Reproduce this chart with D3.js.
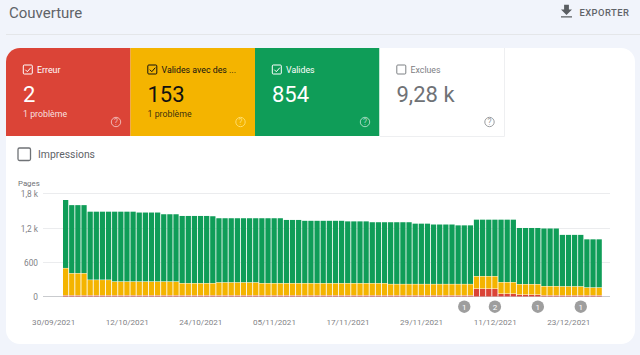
<!DOCTYPE html>
<html lang="fr">
<head>
<meta charset="utf-8">
<script src="https://cdn.jsdelivr.net/npm/d3@7"></script>
<style>
  html, body { margin: 0; padding: 0; background: #f1f4fb; overflow: hidden; }
  svg { display: block; font-family: Roboto, sans-serif; }
</style>
</head>
<body>
<svg id="chart" width="640" height="355"></svg>
<script>
const erreur = [
  22,22,22,22,22,22,22,22,22,22,22,22,22,22,22,22,22,22,22,22,22,22,
  22,22,22,22,22,22,22,22,22,22,22,22,22,22,22,22,22,22,22,22,22,22,
  22,22,22,22,22,22,22,22,22,22,22,22,22,22,22,22,22,22,22,22,22,22,22,
  140,140,140,140,52,52,52,35,35,35,35,22,22,22,22,22,22,22,22,22,22
]
const validesAvert = [
  478,388,388,388,273,273,273,273,243,243,243,243,243,243,243,243,243,243,243,213,213,213,
  213,213,213,228,228,228,228,228,228,228,213,213,213,213,213,213,213,213,213,213,213,213,
  213,213,213,213,213,213,213,213,213,198,198,198,198,198,198,198,198,198,198,198,198,198,198,
  218,218,218,218,201,201,201,183,183,183,183,161,161,161,158,158,158,158,138,138,138
]
const valides = [
  1200,1200,1200,1200,1200,1200,1200,1200,1230,1230,1230,1230,1215,1215,1215,1215,1185,1185,1185,1185,1185,1185,
  1185,1185,1180,1130,1130,1130,1130,1130,1130,1130,1145,1145,1145,1145,1115,1115,1115,1100,1100,1100,1100,1100,
  1100,1100,1090,1090,1090,1090,1075,1075,1075,1090,1090,1090,1090,1065,1065,1065,1050,1050,1050,1050,1035,1035,1035,
  997,997,997,997,1102,1102,1102,991,991,991,991,1017,1017,1017,908,908,908,908,850,850,850
]
const tickEvery = 12
const annotations = [
  { index: 65, count: 1 },
  { index: 70, count: 2 },
  { index: 77, count: 1 },
  { index: 84, count: 1 }
]
const yTicks = [0, 600, 1200, 1800]
const yTickLabels = ['0', '600', '1,2 k', '1,8 k']

const tiles = [
  { label: 'Erreur', value: '2', sub: '1 problème', fill: '#db4437', ink: '#fff', help: '#fff', checked: true },
  { label: 'Valides avec des ...', value: '153', sub: '1 problème', fill: '#f4b400', ink: '#111', help: '#ffdc6a', checked: true },
  { label: 'Valides', value: '854', sub: '', fill: '#0f9d58', ink: '#fff', help: '#fff', checked: true },
  { label: 'Exclues', value: '9,28 k', sub: '', fill: '#fff', ink: '#6f7276', help: '#9a9da0', checked: false }
]

const days = d3.timeDay.range(new Date(2021, 8, 30), new Date(2021, 11, 27))
const formatDay = d3.timeFormat('%d/%m/%Y')
const rows = days.map((day, i) => ({ day, erreur: erreur[i], validesAvert: validesAvert[i], valides: valides[i] }))

const svg = d3.select('#chart')

// card
svg.append('rect').attr('x', 6).attr('y', 48).attr('width', 629).attr('height', 296).attr('rx', 14).attr('fill', '#fff')

// header
svg.append('text').attr('x', 9).attr('y', 18).attr('font-size', 15)
  .attr('fill', '#5f6368').text('Couverture')
svg.append('path').attr('d', 'M561 17.5h11v-1.3h-11zM572 9.5h-3.1v-4.7h-4.8v4.7H561l5.5 5.5z').attr('fill', '#5a5e62')
svg.append('text').attr('x', 579.5).attr('y', 15.5).attr('font-size', 9.4).attr('font-weight', 500)
  .attr('letter-spacing', 0.45).attr('fill', '#5f6368').text('EXPORTER')
svg.append('line').attr('x1', 6).attr('x2', 640).attr('y1', 34.5).attr('y2', 34.5).attr('stroke', '#e4e6e9')

// tiles
const tileX = d3.scaleBand().domain(d3.range(tiles.length)).range([6, 504])

svg.append('path').attr('d', 'M20 48H130.5V136H6V62A14 14 0 0 1 20 48Z').attr('fill', tiles[0].fill)

const tile = svg.append('g').selectAll('g').data(tiles).join('g')
  .attr('transform', (d, i) => `translate(${tileX(i)},48)`)

tile.filter((d, i) => i > 0).append('rect')
  .attr('width', tileX.bandwidth()).attr('height', 88).attr('fill', d => d.fill)

// edge of the white tile
svg.append('path').attr('d', 'M504.5 48V136.5H380').attr('fill', 'none').attr('stroke', '#eeeff1')

const boxInk = d => d.checked ? d.ink : '#7d8084'
tile.append('rect').attr('x', 17.3).attr('y', 17).attr('width', 9).attr('height', 9).attr('rx', 1)
  .attr('fill', 'none').attr('stroke', boxInk).attr('stroke-width', 1)
tile.filter(d => d.checked).append('path').attr('d', 'M19.3 21.7l2 2 3.5-4')
  .attr('fill', 'none').attr('stroke', d => d.ink).attr('stroke-width', 1)
tile.append('text').attr('x', 31).attr('y', 24.7).attr('font-size', 8.8)
  .attr('fill', d => d.fill === '#fff' ? '#7d8084' : d.ink).text(d => d.label)
tile.append('text').attr('x', 17).attr('y', 53.5).attr('font-size', 22).attr('fill', d => d.ink).text(d => d.value)
tile.append('text').attr('x', 17).attr('y', 69).attr('font-size', 8.8)
  .attr('fill', d => d.ink).attr('fill-opacity', 0.85).text(d => d.sub)
tile.append('circle').attr('cx', 110).attr('cy', 74).attr('r', 4.7).attr('fill', 'none')
  .attr('stroke', d => d.help).attr('stroke-opacity', d => d.help === '#fff' ? 0.6 : 1)
tile.append('text').attr('x', 110).attr('y', 77).attr('text-anchor', 'middle').attr('font-size', 8.5)
  .attr('fill', d => d.help).attr('fill-opacity', d => d.help === '#fff' ? 0.6 : 1).text('?')

// impressions toggle
svg.append('rect').attr('x', 18).attr('y', 148).attr('width', 12.5).attr('height', 12.5).attr('rx', 1.5)
  .attr('fill', 'none').attr('stroke', '#6f7276').attr('stroke-width', 1.3)
svg.append('text').attr('x', 38).attr('y', 158).attr('font-size', 10.4).attr('fill', '#5f6368').text('Impressions')

// chart
const x = d3.scaleBand().domain(days).range([63, 601.8]).paddingInner(0.14).paddingOuter(0)
const y = d3.scaleLinear().domain([0, 1800]).range([296.9, 194.3])

const stack = d3.stack().keys(['erreur', 'validesAvert', 'valides'])
const colors = d3.scaleOrdinal().domain(['erreur', 'validesAvert', 'valides']).range(['#db4437', '#f4b400', '#0f9d58'])

svg.append('text').attr('x', 18).attr('y', 185.5).attr('font-size', 7.8).attr('fill', '#6f7276').text('Pages')

const yAxis = d3.axisLeft(y).tickValues(yTicks).tickSize(0).tickPadding(0)
  .tickFormat((d, i) => yTickLabels[i])
const yG = svg.append('g').attr('transform', 'translate(38,0)').call(yAxis)
yG.select('.domain').remove()
yG.selectAll('text').attr('font-size', 8.3).attr('fill', '#7f8286').attr('font-family', 'Roboto, sans-serif')

svg.append('g').selectAll('line').data(yTicks).join('line')
  .attr('x1', 43).attr('x2', 610)
  .attr('y1', d => Math.round(y(d)) - 0.5).attr('y2', d => Math.round(y(d)) - 0.5)
  .attr('stroke', d => d === 0 ? '#c9cbce' : '#ebecee')

svg.append('g').selectAll('g').data(stack(rows)).join('g')
  .attr('fill', d => colors(d.key))
  .selectAll('rect').data(d => d).join('rect')
  .attr('x', d => x(d.data.day))
  .attr('width', x.bandwidth())
  .attr('y', d => y(d[1]))
  .attr('height', d => Math.max(0, y(d[0]) - y(d[1]) - 0.45))

const xAxis = d3.axisBottom(x).tickSize(0).tickPadding(0)
  .tickValues(days.filter((d, i) => i % tickEvery === 0))
  .tickFormat(formatDay)
const xG = svg.append('g').attr('transform', 'translate(-12,319.5)').call(xAxis)
xG.select('.domain').remove()
xG.selectAll('text').attr('font-size', 8.1).attr('fill', '#7f8286').attr('font-family', 'Roboto, sans-serif')

// annotation markers
const marker = svg.append('g').selectAll('g').data(annotations).join('g')
  .attr('transform', d => `translate(${x(days[d.index]) + x.bandwidth() / 2},306.7)`)
marker.append('circle').attr('r', 6.2).attr('fill', '#9e9e9e')
marker.append('text').attr('text-anchor', 'middle').attr('y', 3).attr('font-size', 8).attr('fill', '#fff').text(d => d.count)
</script>
</body>
</html>
